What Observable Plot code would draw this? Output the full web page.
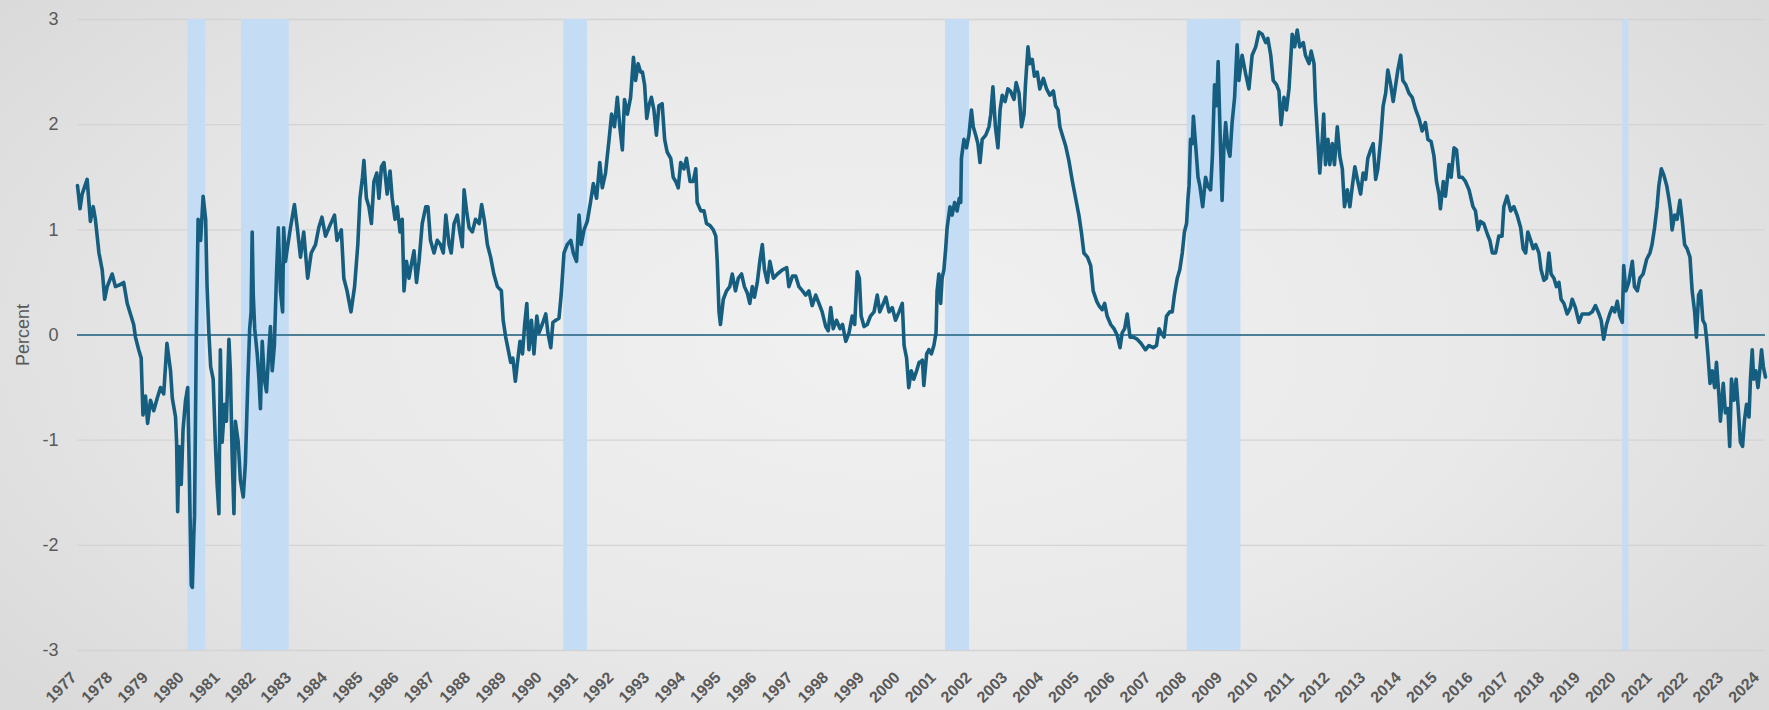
<!DOCTYPE html>
<html>
<head>
<meta charset="utf-8">
<script src="https://cdn.jsdelivr.net/npm/d3@7"></script>
<script src="https://cdn.jsdelivr.net/npm/@observablehq/plot@0.6"></script>
<style>
  html, body { margin: 0; padding: 0; width: 1769px; height: 710px; overflow: hidden; }
  body { background: radial-gradient(ellipse 62% 80% at 50% 48%, #f1f1f1 0%, #e9e9e9 55%, #dadada 100%); }
  #chart svg { display: block; }
</style>
</head>
<body>
<div id="chart"></div>
<script>
// ---- Data (10-year minus 2-year Treasury spread, percent) ----
const obsYear = [
1977.00,1977.07,1977.13,1977.27,1977.36,1977.44,1977.50,1977.60,1977.69,1977.76,1977.83,1977.97,
1978.06,1978.20,1978.29,1978.39,1978.48,1978.57,1978.62,1978.71,1978.78,1978.83,1978.90,1978.96,
1979.04,1979.13,1979.23,1979.32,1979.41,1979.50,1979.60,1979.65,1979.74,1979.77,1979.80,1979.84,1979.90,1979.95,
1980.02,1980.08,1980.12,1980.18,1980.21,1980.25,1980.27,1980.32,1980.37,1980.44,1980.51,1980.58,1980.62,1980.67,1980.72,1980.79,1980.85,1980.90,1980.95,1980.99,
1981.04,1981.11,1981.16,1981.23,1981.27,1981.32,1981.37,1981.41,1981.49,1981.55,1981.63,1981.69,1981.76,1981.81,1981.85,1981.88,1981.91,1981.95,
1982.02,1982.07,1982.11,1982.16,1982.22,1982.28,1982.34,1982.39,1982.44,1982.50,1982.56,1982.61,1982.67,1982.73,1982.76,1982.81,1982.86,1982.95,
1983.06,1983.14,1983.23,1983.32,1983.43,1983.53,1983.65,1983.74,1983.83,1983.93,
1984.05,1984.18,1984.25,1984.37,1984.44,1984.53,1984.64,1984.74,1984.83,1984.89,1984.96,
1985.00,1985.07,1985.14,1985.21,1985.28,1985.36,1985.42,1985.49,1985.56,1985.65,1985.73,1985.79,1985.87,1985.93,
1986.01,1986.07,1986.12,1986.19,1986.26,1986.32,1986.40,1986.47,1986.54,1986.63,1986.73,1986.79,1986.86,1986.96,
1987.05,1987.14,1987.22,1987.29,1987.38,1987.44,1987.52,1987.61,1987.68,1987.75,1987.80,1987.87,1987.94,
1988.03,1988.12,1988.22,1988.29,1988.37,1988.45,1988.54,1988.63,1988.73,1988.84,1988.89,1988.96,
1989.03,1989.10,1989.16,1989.23,1989.29,1989.36,1989.43,1989.49,1989.55,1989.61,1989.68,1989.75,1989.83,1989.89,1989.98,
1990.08,1990.14,1990.22,1990.28,1990.36,1990.45,1990.51,1990.59,1990.68,1990.78,1990.85,1990.94,
1991.01,1991.07,1991.15,1991.24,1991.33,1991.41,1991.50,1991.59,1991.66,1991.75,1991.85,1991.92,
1992.00,1992.08,1992.15,1992.22,1992.28,1992.36,1992.45,1992.53,1992.59,1992.66,1992.73,1992.78,1992.84,1992.90,1992.96,
1993.03,1993.10,1993.17,1993.24,1993.33,1993.40,1993.47,1993.57,1993.64,1993.71,1993.78,1993.85,1993.94,
1994.01,1994.11,1994.20,1994.27,1994.31,1994.41,1994.50,1994.57,1994.67,1994.76,1994.83,1994.87,1994.92,1994.96,
1995.04,1995.13,1995.22,1995.29,1995.38,1995.46,1995.55,1995.63,1995.71,1995.78,1995.85,1995.91,1995.99,
1996.06,1996.13,1996.19,1996.27,1996.34,1996.44,1996.55,1996.69,1996.81,1996.87,1996.97,
1997.06,1997.15,1997.25,1997.34,1997.43,1997.52,1997.62,1997.71,1997.80,1997.90,1997.97,
1998.04,1998.11,1998.20,1998.30,1998.37,1998.46,1998.55,1998.64,1998.71,1998.78,1998.84,1998.89,1998.97,
1999.06,1999.15,1999.25,1999.34,1999.41,1999.51,1999.58,1999.67,1999.76,1999.85,1999.95,
2000.04,2000.09,2000.16,2000.22,2000.29,2000.36,2000.44,2000.51,2000.53,2000.60,2000.64,2000.72,2000.78,2000.85,2000.92,2000.98,
2001.01,2001.06,2001.11,2001.15,2001.20,2001.25,2001.29,2001.37,2001.43,2001.50,2001.57,2001.63,2001.67,2001.69,2001.76,2001.83,2001.90,2001.97,
2002.02,2002.09,2002.15,2002.21,2002.27,2002.37,2002.46,2002.51,2002.57,2002.64,2002.71,2002.77,2002.83,2002.91,2002.99,
2003.06,2003.16,2003.22,2003.30,2003.37,2003.44,2003.48,2003.55,2003.60,2003.67,2003.73,2003.81,2003.88,2003.98,
2004.07,2004.16,2004.26,2004.32,2004.39,2004.44,2004.51,2004.60,2004.69,2004.79,2004.88,2004.97,
2005.04,2005.11,2005.21,2005.30,2005.37,2005.47,2005.53,2005.62,2005.69,2005.76,2005.86,2005.95,
2006.04,2006.12,2006.18,2006.25,2006.32,2006.40,2006.49,2006.60,2006.71,2006.83,2006.93,
2007.05,2007.14,2007.21,2007.27,2007.35,2007.42,2007.51,2007.58,2007.64,2007.72,2007.79,2007.86,2007.92,2007.98,
2008.02,2008.05,2008.09,2008.14,2008.17,2008.23,2008.30,2008.35,2008.43,2008.51,2008.57,2008.65,2008.70,2008.76,2008.82,2008.86,2008.91,2008.97,
2009.02,2009.07,2009.13,2009.19,2009.25,2009.32,2009.39,2009.44,2009.53,2009.63,2009.72,2009.81,2009.91,
2010.00,2010.09,2010.19,2010.25,2010.33,2010.40,2010.49,2010.56,2010.62,2010.70,2010.77,2010.84,2010.93,
2011.00,2011.07,2011.14,2011.24,2011.30,2011.40,2011.46,2011.54,2011.58,2011.63,2011.70,2011.77,2011.81,2011.86,2011.93,2011.98,
2012.05,2012.11,2012.19,2012.26,2012.33,2012.39,2012.47,2012.54,2012.61,2012.68,2012.75,2012.84,2012.91,2012.98,
2013.04,2013.12,2013.19,2013.26,2013.32,2013.40,2013.47,2013.54,2013.60,2013.68,2013.75,2013.82,2013.88,2013.96,
2014.02,2014.10,2014.19,2014.28,2014.38,2014.47,2014.56,2014.65,2014.72,2014.81,2014.89,2014.96,
2015.03,2015.07,2015.15,2015.21,2015.31,2015.37,2015.45,2015.52,2015.59,2015.68,2015.77,2015.87,2015.98,
2016.05,2016.12,2016.19,2016.28,2016.38,2016.45,2016.52,2016.61,2016.70,2016.79,2016.84,2016.93,
2017.03,2017.12,2017.21,2017.31,2017.38,2017.45,2017.51,2017.59,2017.66,2017.73,2017.82,2017.88,2017.96,
2018.03,2018.10,2018.16,2018.24,2018.31,2018.38,2018.44,2018.52,2018.61,2018.70,2018.75,2018.84,2018.94,
2019.03,2019.12,2019.22,2019.31,2019.40,2019.50,2019.56,2019.63,2019.71,2019.80,2019.87,2019.94,
2020.01,2020.08,2020.15,2020.19,2020.25,2020.33,2020.43,2020.49,2020.57,2020.64,2020.73,2020.83,2020.92,2020.98,
2021.05,2021.12,2021.17,2021.24,2021.31,2021.39,2021.45,2021.50,2021.54,2021.61,2021.68,2021.76,2021.82,2021.89,2021.96,
2022.04,2022.10,2022.17,2022.22,2022.28,2022.34,2022.40,2022.46,2022.50,2022.54,2022.60,2022.66,2022.73,2022.78,2022.85,2022.89,2022.97,
2023.03,2023.10,2023.15,2023.20,2023.27,2023.33,2023.39,2023.45,2023.51,2023.56,2023.62,2023.69,2023.73,2023.78,2023.82,2023.88,2023.94,2023.99,
2024.04,2024.09,2024.15
];
const obsSpread = [
1.42,1.20,1.34,1.48,1.08,1.22,1.10,0.78,0.62,0.34,0.46,0.58,
0.46,0.48,0.50,0.30,0.20,0.10,-0.02,-0.14,-0.22,-0.76,-0.58,-0.84,
-0.62,-0.72,-0.60,-0.50,-0.56,-0.08,-0.34,-0.60,-0.78,-1.02,-1.68,-1.06,-1.42,-0.90,
-0.62,-0.50,-1.22,-2.38,-2.40,-1.90,-1.72,-0.02,1.10,0.90,1.32,1.10,0.46,0.02,-0.30,-0.42,-1.02,-1.42,-1.70,-0.14,
-1.02,-0.66,-0.82,-0.04,-0.34,-1.14,-1.70,-0.82,-1.02,-1.38,-1.54,-1.22,-0.42,0.06,0.22,0.98,0.38,0.06,
-0.18,-0.42,-0.70,-0.06,-0.42,-0.54,-0.18,0.08,-0.34,-0.10,0.58,1.02,0.42,0.22,1.02,0.70,0.82,1.02,
1.24,1.02,0.74,0.98,0.54,0.78,0.86,1.02,1.12,0.94,
1.04,1.14,0.90,1.00,0.54,0.42,0.22,0.46,0.86,1.30,1.50,
1.66,1.30,1.22,1.06,1.46,1.54,1.30,1.60,1.64,1.34,1.56,1.30,1.10,1.22,
0.98,1.10,0.42,0.70,0.54,0.66,0.80,0.50,0.70,1.06,1.22,1.22,0.90,0.78,
0.90,0.86,0.78,1.14,0.86,0.78,1.06,1.14,0.98,0.84,1.38,1.18,1.02,
0.98,1.10,1.06,1.24,1.08,0.86,0.74,0.58,0.46,0.42,0.14,-0.02,
-0.14,-0.26,-0.22,-0.44,-0.26,-0.06,-0.18,0.10,0.30,-0.14,0.14,-0.18,0.18,0.02,0.10,
0.20,0.02,-0.12,0.12,0.14,0.16,0.38,0.78,0.86,0.90,0.78,0.70,
1.14,0.86,1.00,1.08,1.26,1.44,1.30,1.64,1.40,1.54,1.86,2.10,
1.98,2.26,1.98,1.76,2.24,2.10,2.26,2.64,2.42,2.58,2.50,2.50,2.38,2.06,2.18,
2.26,2.14,1.90,2.18,2.20,1.86,1.74,1.68,1.50,1.46,1.40,1.64,1.58,
1.68,1.46,1.46,1.58,1.26,1.18,1.18,1.06,1.04,1.00,0.94,0.70,0.22,0.10,
0.34,0.42,0.46,0.58,0.42,0.54,0.58,0.46,0.40,0.30,0.46,0.36,0.50,
0.70,0.86,0.62,0.50,0.70,0.54,0.58,0.62,0.64,0.46,0.56,
0.56,0.46,0.42,0.38,0.42,0.28,0.38,0.30,0.22,0.08,0.04,
0.26,0.06,0.14,0.06,0.10,-0.06,0.02,0.18,0.10,0.60,0.54,0.18,0.08,
0.10,0.18,0.22,0.38,0.22,0.30,0.36,0.22,0.26,0.14,0.22,
0.30,-0.10,-0.22,-0.50,-0.34,-0.42,-0.34,-0.26,-0.26,-0.24,-0.48,-0.18,-0.14,-0.18,-0.10,0.02,
0.42,0.58,0.30,0.54,0.62,0.82,1.02,1.22,1.14,1.26,1.18,1.30,1.26,1.68,1.86,1.78,1.90,2.14,
1.98,1.90,1.82,1.64,1.86,1.90,1.98,2.10,2.36,1.98,1.78,2.14,2.28,2.22,2.34,
2.32,2.24,2.40,2.30,1.98,2.10,2.38,2.74,2.58,2.62,2.46,2.50,2.34,2.44,
2.34,2.28,2.32,2.18,2.14,1.98,1.90,1.80,1.66,1.46,1.30,1.14,
0.98,0.78,0.74,0.66,0.42,0.32,0.28,0.24,0.30,0.18,0.10,0.06,
0.00,-0.12,0.02,0.06,0.20,-0.02,-0.02,-0.04,-0.08,-0.14,-0.10,
-0.12,-0.10,0.06,0.02,-0.02,0.18,0.22,0.22,0.38,0.54,0.62,0.78,0.98,1.06,
1.30,1.42,1.86,1.82,2.08,1.82,1.50,1.42,1.22,1.50,1.42,1.38,1.70,2.38,2.18,2.60,1.98,1.28,
1.78,2.02,1.78,1.70,2.02,2.26,2.76,2.42,2.66,2.48,2.34,2.66,2.74,
2.88,2.86,2.78,2.82,2.66,2.42,2.38,2.32,2.00,2.26,2.14,2.34,2.86,
2.74,2.90,2.74,2.78,2.66,2.58,2.70,2.58,2.22,1.94,1.54,1.86,2.10,1.62,1.86,1.62,
1.82,1.62,1.98,1.70,1.58,1.22,1.38,1.22,1.42,1.60,1.48,1.34,1.54,1.48,
1.68,1.76,1.82,1.48,1.58,1.86,2.18,2.30,2.52,2.38,2.22,2.38,2.52,2.66,
2.42,2.38,2.30,2.26,2.14,2.06,1.94,2.02,1.86,1.84,1.70,1.46,
1.34,1.20,1.46,1.32,1.62,1.50,1.78,1.76,1.50,1.50,1.46,1.38,1.22,
1.18,1.00,1.08,1.06,0.96,0.90,0.78,0.78,0.94,0.94,1.22,1.32,
1.18,1.22,1.14,1.02,0.82,0.78,0.98,0.90,0.82,0.86,0.78,0.62,0.52,
0.54,0.78,0.58,0.54,0.46,0.50,0.34,0.30,0.20,0.26,0.34,0.26,0.12,
0.20,0.20,0.20,0.22,0.28,0.20,0.14,-0.04,0.10,0.20,0.26,0.22,
0.32,0.18,0.12,0.66,0.42,0.50,0.70,0.46,0.42,0.54,0.58,0.72,0.78,0.86,
1.02,1.22,1.42,1.58,1.52,1.42,1.30,1.18,1.00,1.14,1.10,1.28,1.10,0.86,0.82,
0.74,0.42,0.22,-0.02,0.38,0.42,0.14,0.10,-0.02,-0.18,-0.46,-0.34,-0.50,-0.26,-0.58,-0.82,-0.46,
-0.74,-0.70,-1.06,-0.42,-0.62,-0.42,-0.70,-1.02,-1.06,-0.82,-0.66,-0.78,-0.42,-0.14,-0.42,-0.34,-0.50,-0.34,
-0.14,-0.30,-0.40
];

// Recession periods (NBER, shaded months)
const recessionStart = ["1980-02-01","1981-08-01","1990-08-01","2001-04-01","2008-01-01","2020-03-01"];
const recessionEnd   = ["1980-08-01","1982-12-01","1991-04-01","2001-12-01","2009-07-01","2020-05-01"];

// Tick labels
const yearTicks = d3.range(1977, 2025);
const percentTicks = [-3, -2, -1, 0, 1, 2, 3];
const yLabel = "Percent";

// ---- Build tables ----
const toDate = (y) => {
  const yr = Math.floor(y);
  const s = Date.UTC(yr, 0, 1), e = Date.UTC(yr + 1, 0, 1);
  return new Date(s + (y - yr) * (e - s));
};
const series = obsYear.map((y, i) => ({date: toDate(y), value: obsSpread[i]}));
const recessions = recessionStart.map((s, i) => ({start: new Date(s), end: new Date(recessionEnd[i])}));
const ticks = yearTicks.map(y => ({date: new Date(Date.UTC(y, 0, 1)), label: String(y)}));

const lineColor = "#165e80";
const textColor = "#595959";

const chart = Plot.plot({
  width: 1769,
  height: 710,
  marginLeft: 77,
  marginRight: 4,
  marginTop: 19,
  marginBottom: 60,
  style: {background: "transparent", fontFamily: "'Liberation Sans', Arial, sans-serif"},
  x: {type: "utc", domain: [new Date("1977-01-01"), new Date("2024-02-25")], axis: null},
  y: {domain: [-3, 3], axis: null},
  marks: [
    Plot.ruleY(percentTicks, {stroke: "#d3d3d3", strokeWidth: 1.4}),
    Plot.rect(recessions, {x1: "start", x2: "end", y1: -3, y2: 3, fill: "#c5dcf5"}),
    Plot.ruleY([0], {stroke: "#1d5f7e", strokeWidth: 1.3}),
    Plot.line(series, {x: "date", y: "value", stroke: lineColor, strokeWidth: 3.6, strokeLinejoin: "round", strokeLinecap: "round"}),
    Plot.axisY(percentTicks, {label: null, tickSize: 0, tickPadding: 19, fontSize: 18, color: textColor, tickFormat: d => String(d)}),
    Plot.text(ticks, {x: "date", text: "label", frameAnchor: "bottom", rotate: -45, textAnchor: "end", lineAnchor: "bottom", dx: 0, dy: 28, fontSize: 16, fontWeight: "bold", fill: textColor}),
    Plot.text([yLabel], {frameAnchor: "left", dx: -54, rotate: -90, textAnchor: "middle", lineAnchor: "middle", fontSize: 18, fill: textColor})
  ]
});
document.getElementById("chart").appendChild(chart);
</script>
</body>
</html>
